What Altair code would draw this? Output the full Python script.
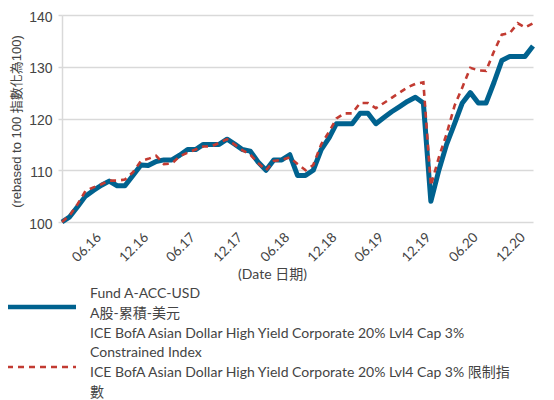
import altair as alt
import pandas as pd

# ---- data (monthly, rebased to 100) ----
months = pd.date_range("2016-04-01", "2021-04-01", freq="MS")

fund = [100, 101, 103, 105, 106.1, 107.1, 107.9, 107, 107, 109,
        111, 110.9, 111.7, 112, 112, 112.9, 114, 114, 115, 115,
        115, 116, 115, 114, 113.7, 111.6, 110, 112, 112, 113,
        109, 109, 110, 114, 116.3, 119, 119, 119, 121, 121,
        119, 120.2, 121.3, 122.3, 123.3, 124.1, 123, 104, 110, 115,
        119, 123, 125, 123, 123, 127, 131.2, 132, 132, 132,
        134]

index = [100, 101.3, 103.5, 106, 106.7, 107.3, 108, 108, 108.2, 109.6,
         111.8, 112.2, 112.8, 111.2, 111.3, 112.7, 113.4, 114, 114.6, 114.6,
         115.3, 116, 114.9, 113.9, 113, 111.4, 110, 111.8, 112, 112.5,
         111.2, 110, 111, 115, 117.5, 120, 121, 121, 123, 123,
         122, 123, 124, 125, 126, 126.7, 127, 107, 112.5, 117,
         122.5, 126, 129.8, 129.3, 129.2, 133, 136.2, 136.5, 138.4, 137.6,
         138.4]

tick_months = [(2016, 6), (2016, 12), (2017, 6), (2017, 12), (2018, 6),
               (2018, 12), (2019, 6), (2019, 12), (2020, 6), (2020, 12)]
y_ticks = [100, 110, 120, 130, 140]

fund_label = ["Fund A-ACC-USD", "A股-累積-美元"]
index_label = ["ICE BofA Asian Dollar High Yield Corporate 20% Lvl4 Cap 3%",
               "Constrained Index",
               "ICE BofA Asian Dollar High Yield Corporate 20% Lvl4 Cap 3% 限制指",
               "數"]

BLUE = "#00628f"
RED = "#c23b32"
GRID = "#d9d9d9"
TXT = "#444444"
LATIN = "Lato, 'Noto Sans CJK TC', sans-serif"
ARIAL = "'Liberation Sans', 'Noto Sans CJK TC', sans-serif"

df = pd.DataFrame({"date": months, "fund": fund, "index": index})

x_enc = alt.X(
    "date:T",
    scale=alt.Scale(domain=[alt.DateTime(year=2016, month=4, date=1),
                            alt.DateTime(year=2021, month=4, date=1)], nice=False),
    axis=alt.Axis(
        values=[alt.DateTime(year=y, month=m, date=1) for y, m in tick_months],
        format="%m.%y", labelAngle=-45, labelOffset=16, labelPadding=8,
        labelFont=LATIN, labelFontSize=13.5, labelColor=TXT,
        ticks=False, domain=False, grid=False,
        title="(Date 日期)", titleFont=LATIN, titleFontSize=14, titleFontWeight="normal",
        titleColor=TXT, titleX=210, titleY=52, titleAlign="center", titleBaseline="middle",
    ),
)

y_axis = alt.Axis(
    values=y_ticks, labelFont=ARIAL, labelFontSize=14, labelColor=TXT, labelPadding=6,
    labelOffset=2,
    tickColor=GRID, tickSize=4, tickWidth=1.5, domainColor=GRID, domainWidth=1.5,
    gridColor=GRID, gridWidth=1.5,
    title="(rebased to 100 指數化為100)", titleFont=ARIAL, titleFontSize=13,
    titleFontWeight="normal", titleColor=TXT, titleX=-46, titleY=106,
    titleAlign="center", titleBaseline="middle", titleAngle=-90,
)

base = alt.Chart(df)
fund_line = base.mark_line(color=BLUE, strokeWidth=5, strokeJoin="round").encode(
    x=x_enc,
    y=alt.Y("fund:Q", scale=alt.Scale(domain=[100, 140], nice=False, zero=False), axis=y_axis),
)
index_line = base.mark_line(color=RED, strokeWidth=2.6, strokeDash=[6, 5]).encode(
    x="date:T", y="index:Q"
)

one = pd.DataFrame({"k": [0]})
leg_fund_sym = alt.Chart(one).mark_rule(color=BLUE, strokeWidth=4.5).encode(
    x=alt.value(-55), x2=alt.value(14), y=alt.value(292))
leg_index_sym = alt.Chart(one).mark_rule(color=RED, strokeWidth=2.6, strokeDash=[6, 5]).encode(
    x=alt.value(-55), x2=alt.value(14), y=alt.value(352))
leg_fund_txt = alt.Chart(one).mark_text(
    align="left", baseline="middle", font=LATIN, fontSize=14, lineHeight=19.9, color=TXT
).encode(x=alt.value(28), y=alt.value(279), text=alt.value(fund_label))
leg_index_txt = alt.Chart(one).mark_text(
    align="left", baseline="middle", font=LATIN, fontSize=14, lineHeight=19.9, color=TXT
).encode(x=alt.value(28), y=alt.value(318.5), text=alt.value(index_label))

chart = alt.layer(
    fund_line, index_line, leg_fund_sym, leg_index_sym, leg_fund_txt, leg_index_txt
).properties(
    width=471, height=207,
    autosize=alt.AutoSizeParams(type="none"),
    padding={"left": 54, "top": 7, "right": 13, "bottom": 178},
).configure_view(strokeWidth=0)

chart.save("out.html", embed_options={"renderer": "svg", "actions": False})
